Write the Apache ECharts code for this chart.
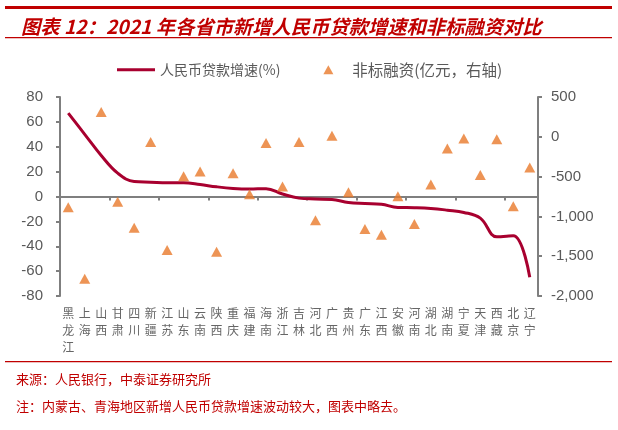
<!DOCTYPE html>
<html>
<head>
<meta charset="utf-8">
<script src="https://cdn.jsdelivr.net/npm/echarts@6/dist/echarts.min.js"></script>
<style>
    html, body { margin: 0; padding: 0; background: #fff; }
    #main { width: 618px; height: 430px; }
</style>
</head>
<body>
<div id="main"></div>
<script>
// 省市（横轴）
var provinces = ['黑龙江', '上海', '山西', '甘肃', '四川', '新疆', '江苏', '山东', '云南', '陕西',
    '重庆', '福建', '海南', '浙江', '吉林', '河北', '广西', '贵州', '广东', '江西',
    '安徽', '河南', '湖北', '湖南', '宁夏', '天津', '西藏', '北京', '辽宁'];
// 人民币贷款增速(%)，左轴
var loanGrowth = [67, 50, 33, 18.8, 12, 11.5, 11, 11, 9.6, 7.8,
    6.5, 6, 6.3, 2, -1.3, -2, -2.4, -4.8, -5.6, -6.2,
    -8.8, -9, -9.6, -11, -12.8, -17.4, -32.4, -31.5, -65];
// 非标融资(亿元)，右轴
var nonStandard = [-884, -1782, 312, -817, -1143, -64, -1423, -495, -436, -1444,
    -457, -721, -77, -624, -64, -1048, 12, -698, -1157, -1232,
    -748, -1094, -598, -147, -22, -481, -30, -873, -385];

var axisGray = '#7f7f7f';
var labelGray = '#595959';
var cjkFont = '"Noto Sans CJK SC", sans-serif';
var numFont = '"Liberation Sans", Arial, sans-serif';

var myChart = echarts.init(document.getElementById('main'));
var option = {
    backgroundColor: '#fff',
    animation: false,
    title: {
        text: '图表 12：2021 年各省市新增人民币贷款增速和非标融资对比',
        left: 16,
        top: 12,
        textStyle: {
            color: '#C00000',
            fontSize: 19.3,
            fontWeight: 'bold',
            fontStyle: 'italic',
            fontFamily: cjkFont
        }
    },
    graphic: [
        { type: 'rect', shape: { x: 5, y: 6, width: 607, height: 3 }, style: { fill: '#C00000' } },
        { type: 'rect', shape: { x: 5, y: 37, width: 607, height: 1.2 }, style: { fill: '#C00000' } },
        { type: 'rect', shape: { x: 5, y: 361, width: 607, height: 1.2 }, style: { fill: '#C00000' } },
        {
            type: 'text', left: 16, top: 373,
            style: { text: '来源：人民银行，中泰证券研究所', fill: '#C00000', font: '13px ' + cjkFont }
        },
        {
            type: 'text', left: 16, top: 400,
            style: { text: '注：内蒙古、青海地区新增人民币贷款增速波动较大，图表中略去。', fill: '#C00000', font: '13px ' + cjkFont }
        }
    ],
    legend: {
        top: 57,
        left: 112,
        itemWidth: 38,
        itemHeight: 9,
        itemGap: 43,
        symbolKeepAspect: true,
        textStyle: { color: labelGray, fontSize: 14, fontFamily: cjkFont },
        data: [
            { name: '人民币贷款增速(%)', icon: 'path://M0,0 L38,0 L38,3 L0,3 Z' },
            {
                name: '非标融资(亿元，右轴)',
                icon: 'path://M5,0 L10,9 L0,9 Z',
                textStyle: { color: labelGray, fontSize: 15.5, fontFamily: cjkFont }
            }
        ]
    },
    grid: {
        left: 60,
        right: 80,
        top: 97,
        bottom: 134
    },
    xAxis: [
        {   // 底部文字标签
            type: 'category',
            data: provinces,
            position: 'bottom',
            axisLine: { show: false, onZero: false },
            axisTick: { show: false },
            axisLabel: {
                interval: 0,
                margin: 9,
                color: '#666',
                fontSize: 12,
                lineHeight: 17,
                fontFamily: cjkFont,
                formatter: function (v) { return v.split('').join('\n'); }
            }
        },
        {   // 零轴上的轴线和刻度
            type: 'category',
            data: provinces,
            position: 'bottom',
            axisLine: { show: true, onZero: true, onZeroAxisIndex: 0, lineStyle: { color: axisGray, width: 2 } },
            axisTick: { show: true, length: 4, lineStyle: { color: axisGray, width: 2 } },
            axisLabel: { show: false }
        }
    ],
    yAxis: [
        {
            type: 'value',
            min: -80,
            max: 80,
            interval: 20,
            splitLine: { show: false },
            axisLine: { show: true, lineStyle: { color: axisGray, width: 2 } },
            axisTick: { show: true, length: 4, lineStyle: { color: axisGray, width: 2 } },
            axisLabel: { color: labelGray, fontSize: 15, fontFamily: numFont, margin: 17 }
        },
        {
            type: 'value',
            position: 'right',
            min: -2000,
            max: 500,
            interval: 500,
            splitLine: { show: false },
            axisLine: { show: true, lineStyle: { color: axisGray, width: 2 } },
            axisTick: { show: true, length: 4, lineStyle: { color: axisGray, width: 2 } },
            axisLabel: { color: labelGray, fontSize: 15, fontFamily: numFont, margin: 13 }
        }
    ],
    series: [
        {
            name: '人民币贷款增速(%)',
            type: 'line',
            xAxisIndex: 0,
            yAxisIndex: 0,
            data: loanGrowth,
            smooth: 0.4,
            symbol: 'none',
            lineStyle: { color: '#A8002F', width: 3 },
            itemStyle: { color: '#A8002F' },
            z: 3
        },
        {
            name: '非标融资(亿元，右轴)',
            type: 'scatter',
            xAxisIndex: 0,
            yAxisIndex: 1,
            data: nonStandard,
            symbol: 'triangle',
            symbolSize: [11, 10],
            itemStyle: { color: '#E8792B' },
            z: 4
        }
    ]
};
myChart.setOption(option);
</script>
</body>
</html>
